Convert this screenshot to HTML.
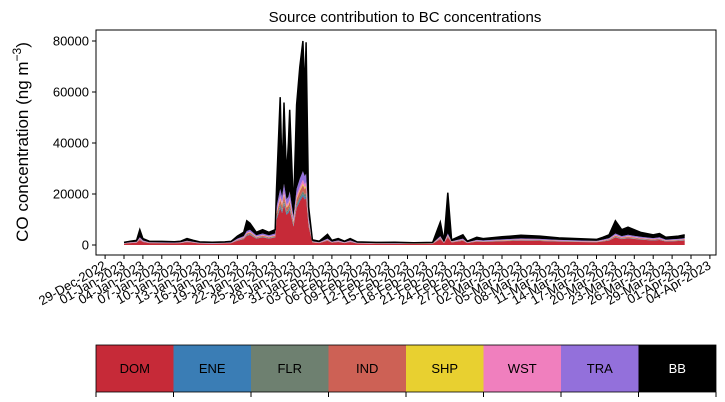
<!DOCTYPE html>
<html><head><meta charset="utf-8"><style>
body{margin:0;background:#fff;}
svg{display:block;font-family:"Liberation Sans","DejaVu Sans",sans-serif;}
</style></head><body>
<svg id="chart" width="725" height="402" viewBox="0 0 725 402"></svg>
<script>
// ---- data ----
const dayOffsets = [0,1,2,2.5,3,4,6,8,9,10,11,12,14,16,17,18,19,19.5,20,21,22,23,24,24.2,24.8,25.1,25.4,25.8,26.1,26.3,26.9,27.4,27.9,28.4,28.7,28.9,29.3,29.9,31,32.3,33,34,35,35.9,37,40,43,46,49,50.2,50.8,51.4,52,53.8,54.5,56,57,60,63,66,69,72,75,76,77,78,79,80,82,84,85,86,88,89];
const totalVals = [1000,1500,1800,6000,2500,1500,1400,1300,1500,2500,1800,1200,1100,1200,1400,3500,5000,9500,8500,5000,6000,5000,6000,22000,58000,26700,55900,26700,40000,53000,13700,55000,69800,80000,60000,79500,15000,2000,1500,4200,1800,2500,1500,2500,1200,1000,1100,900,1000,9000,1500,20500,2000,4000,1500,3000,2500,3200,3800,3500,2800,2500,2200,3000,4000,9500,6000,7000,5000,4000,4500,3000,3500,4000];
const nonBBVals = [800,1100,1300,3000,1800,1100,1000,950,1100,1700,1300,900,800,900,1000,2500,3500,5500,6000,3800,4500,3800,4500,15000,22000,19000,24000,18000,19000,21000,11000,22000,26000,29000,27000,28000,11000,1500,1100,2500,1300,1800,1100,1800,900,750,800,650,750,3500,1100,4500,1500,2500,1100,2000,1800,2200,2600,2400,2000,1800,1600,2100,2700,4500,3500,4000,3200,2700,3000,2100,2400,2700];
const sourceNames = ["DOM","ENE","FLR","IND","SHP","WST","TRA","BB"];
const sourceShares = [0.66,0.03,0.04,0.08,0.02,0.05,0.12];
const sourceColors = ["#c62a38","#3a7db5","#6e8070","#cd6155","#e8d030","#f07fbe","#9370db","#000000"];
const yTicks = [0,20000,40000,60000,80000];
const xTickLabels = ["29-Dec-2022","01-Jan-2023","04-Jan-2023","07-Jan-2023","10-Jan-2023","13-Jan-2023","16-Jan-2023","19-Jan-2023","22-Jan-2023","25-Jan-2023","28-Jan-2023","31-Jan-2023","03-Feb-2023","06-Feb-2023","09-Feb-2023","12-Feb-2023","15-Feb-2023","18-Feb-2023","21-Feb-2023","24-Feb-2023","27-Feb-2023","02-Mar-2023","05-Mar-2023","08-Mar-2023","11-Mar-2023","14-Mar-2023","17-Mar-2023","20-Mar-2023","23-Mar-2023","26-Mar-2023","29-Mar-2023","01-Apr-2023","04-Apr-2023"];

// ---- axes ----
const NS="http://www.w3.org/2000/svg";
const svg=document.getElementById('chart');
const L=96,R=716,T=30,B=255;
const x=d=>124+d*6.3;
const y=v=>245-v*(204/80000);
function mk(tag,attrs,parent){const e=document.createElementNS(NS,tag);for(const k in attrs)e.setAttribute(k,attrs[k]);(parent||svg).appendChild(e);return e;}

const shareSum=sourceShares.reduce((a,b)=>a+b,0);
let lower=dayOffsets.map(()=>0);
for(let s=0;s<8;s++){
  const upper=dayOffsets.map((d,i)=>{
    if(s===7) return totalVals[i];
    return lower[i]+nonBBVals[i]*sourceShares[s]/shareSum;
  });
  let p="M"+dayOffsets.map((d,i)=>x(d).toFixed(1)+","+y(upper[i]).toFixed(1)).join(" L");
  for(let i=dayOffsets.length-1;i>=0;i--)p+=" L"+x(dayOffsets[i]).toFixed(1)+","+y(lower[i]).toFixed(1);
  const a=mk('path',{d:p+"Z",fill:sourceColors[s]});
  
  
  lower=upper;
}
const topLine=mk('path',{d:"M"+dayOffsets.map((d,i)=>x(d).toFixed(1)+","+y(totalVals[i]).toFixed(1)).join(" L"),fill:"none",stroke:"#000","stroke-width":1.5});



const frame=mk('rect',{x:L,y:T,width:R-L,height:B-T,fill:"none",stroke:"#000","stroke-width":1});



yTicks.forEach(v=>{
  mk('line',{x1:L-4,x2:L,y1:y(v),y2:y(v),stroke:"#000"});
  const t=mk('text',{x:L-7,y:y(v)+4.5,"text-anchor":"end","font-size":13});
  t.textContent=v;
  
  
});
for(let k=0;k<=33;k++){
  const xx=x(-3+3*k);
  mk('line',{x1:xx,x2:xx,y1:B,y2:B+4,stroke:"#000"});
  if(k<xTickLabels.length){
    const t=mk('text',{x:xx+2,y:B+13,"text-anchor":"end","font-size":13,transform:`rotate(-30 ${xx+2} ${B+13})`});
    t.textContent=xTickLabels[k];
    
    
  }
}
const title=mk('text',{x:405,y:22,"text-anchor":"middle","font-size":15});
title.textContent="Source contribution to BC concentrations";


const yl=mk('text',{x:28,y:142,"text-anchor":"middle","font-size":17,transform:"rotate(-90 28 142)"});
yl.innerHTML='CO concentration (ng m<tspan dy="-7" font-size="12">−3</tspan><tspan dy="7">)</tspan>';



const w=(R-L)/8;
sourceNames.forEach((n,i)=>{
  const r=mk('rect',{x:L+i*w,y:345,width:w,height:47,fill:sourceColors[i]});
  
  
  const t=mk('text',{x:L+i*w+w/2,y:373,"text-anchor":"middle","font-size":13,fill:n==="BB"?"#fff":"#000"});
  t.textContent=n;
  
  
});
for(let i=0;i<=8;i++)mk('line',{x1:L+i*w,x2:L+i*w,y1:392,y2:397,stroke:"#000"});
mk('rect',{x:L,y:345,width:R-L,height:47,fill:"none",stroke:"#000","stroke-width":0.8});
</script>
</body></html>
